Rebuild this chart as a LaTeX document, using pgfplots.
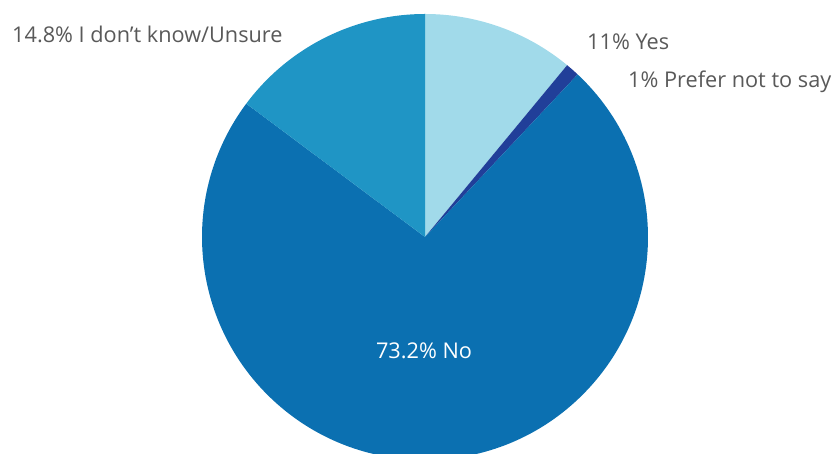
\documentclass[border=0pt]{standalone}
\usepackage{pgfplots}
\pgfplotsset{compat=1.18}
\usepackage{fontspec}
\setmainfont{Open Sans}

\definecolor{cYes}{HTML}{A1DAEA}
\definecolor{cPref}{HTML}{213F99}
\definecolor{cNo}{HTML}{0B70B1}
\definecolor{cUns}{HTML}{1F95C5}
\definecolor{txt}{HTML}{595959}

% shares in percent
\def\pYes{11}
\def\pPref{1}
\def\pNo{73.2}
\def\pUns{14.8}

\begin{document}
\begin{tikzpicture}
\begin{axis}[
  at={(0,0)}, anchor=south west,
  scale only axis, width=836pt, height=454pt,
  xmin=0, xmax=836, ymin=0, ymax=454,
  hide axis, clip=true,
]
% center (425,217), radius 223 (1 unit = 1pt)
\fill[cYes] (axis cs:425,217) -- +(90:223pt)
  arc[start angle=90, delta angle=-3.6*\pYes, radius=223pt] -- cycle;
\fill[cPref] (axis cs:425,217) -- +({90-3.6*\pYes}:223pt)
  arc[start angle={90-3.6*\pYes}, delta angle=-3.6*\pPref, radius=223pt] -- cycle;
\fill[cNo] (axis cs:425,217) -- +({90-3.6*(\pYes+\pPref)}:223pt)
  arc[start angle={90-3.6*(\pYes+\pPref)}, delta angle=-3.6*\pNo, radius=223pt] -- cycle;
\fill[cUns] (axis cs:425,217) -- +({90-3.6*(\pYes+\pPref+\pNo)}:223pt)
  arc[start angle={90-3.6*(\pYes+\pPref+\pNo)}, delta angle=-3.6*\pUns, radius=223pt] -- cycle;

\begin{scope}[every node/.style={inner sep=0pt, font=\fontsize{21.7}{26}\selectfont}]
\node[txt, anchor=base west] at (axis cs:12,411) {14.8\% I don’t know/Unsure};
\node[txt, anchor=base west] at (axis cs:587,404) {11\% Yes};
\node[txt, anchor=base west] at (axis cs:628,366) {1\% Prefer not to say};
\node[white, anchor=base] at (axis cs:424,95) {73.2\% No};
\end{scope}
\end{axis}
\pgfresetboundingbox
\useasboundingbox (0,0) rectangle (836pt,454pt);
\end{tikzpicture}
\end{document}
